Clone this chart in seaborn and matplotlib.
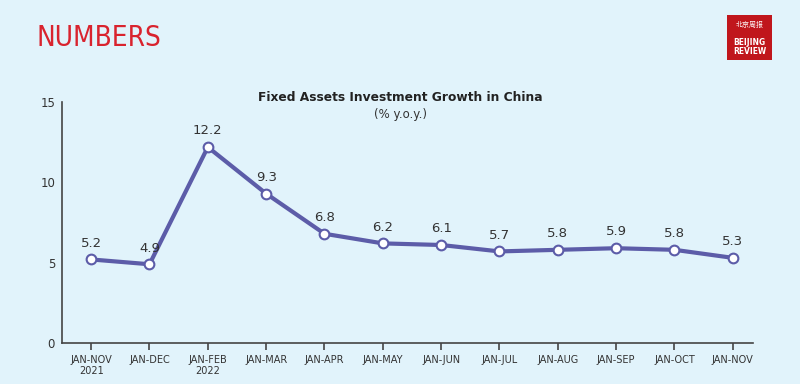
import pandas as pd
import numpy as np
import matplotlib
matplotlib.use("Agg")
import matplotlib.pyplot as plt
import seaborn as sns
from matplotlib.patches import Rectangle

# data
periods = ["JAN-NOV\n2021", "JAN-DEC", "JAN-FEB\n2022", "JAN-MAR", "JAN-APR", "JAN-MAY",
           "JAN-JUN", "JAN-JUL", "JAN-AUG", "JAN-SEP", "JAN-OCT", "JAN-NOV"]
growth = [5.2, 4.9, 12.2, 9.3, 6.8, 6.2, 6.1, 5.7, 5.8, 5.9, 5.8, 5.3]
y_ticks = [0, 5, 10, 15]

bg = "#e1f3fb"
line_col = "#5c5ca8"
text_col = "#333333"

sns.set_style("white")
plt.rcParams['font.family'] = ['DejaVu Sans', 'Noto Sans CJK SC']

df = pd.DataFrame({"period": range(len(periods)), "growth": growth})

fig = plt.figure(figsize=(8, 3.84), dpi=100, facecolor=bg)
ax = fig.add_axes([0.0775, 0.107, 0.864, 0.627])
ax.set_facecolor(bg)

sns.lineplot(data=df, x="period", y="growth", ax=ax, color=line_col, linewidth=3,
             marker="o", markersize=7, markerfacecolor="white",
             markeredgecolor=line_col, markeredgewidth=1.5)

for i, v in enumerate(growth):
    ax.annotate(f"{v}", (i, v), xytext=(0, 7), textcoords="offset points",
                ha="center", va="bottom", fontsize=9.5, color=text_col)

ax.set_xlim(-0.5, 11.35)
ax.set_ylim(0, 15)
ax.set_xticks(range(len(periods)))
ax.set_xticklabels(periods, fontsize=7, color=text_col, linespacing=1.1)
ax.set_yticks(y_ticks)
ax.set_yticklabels([str(t) for t in y_ticks], fontsize=8.5, color=text_col)
ax.tick_params(axis="x", length=5, width=1.2, color="#444444", direction="out", bottom=True)
ax.tick_params(axis="y", length=0, pad=5)
ax.set_xlabel("")
ax.set_ylabel("")
sns.despine(ax=ax)
for s in ["left", "bottom"]:
    ax.spines[s].set_color("#444444")
    ax.spines[s].set_linewidth(1.2)

fig.text(0.5, 0.737, "Fixed Assets Investment Growth in China", ha="center",
         fontsize=8.8, fontweight="bold", color="#222222")
fig.text(0.5, 0.693, "(% y.o.y.)", ha="center", fontsize=8.5, color=text_col)

# header
fig.text(0.046, 0.9, "NUMBERS", fontsize=20, color="#d9232e", fontstretch="condensed",
         family=["DejaVu Sans"], va="center")

# logo
fig.patches.append(Rectangle((0.909, 0.845), 0.056, 0.115, transform=fig.transFigure,
                             facecolor="#c0161c", edgecolor="none"))
fig.text(0.937, 0.935, "北京周报", ha="center", va="center", fontsize=5, color="white",
         family=["Noto Sans CJK SC", "DejaVu Sans"])
fig.text(0.937, 0.877, "BEIJING\nREVIEW", ha="center", va="center", fontsize=6,
         fontweight="bold", color="white", linespacing=0.95, fontstretch="condensed",
         family=["DejaVu Sans"])

fig.savefig("out.png", dpi=100, facecolor=bg)
